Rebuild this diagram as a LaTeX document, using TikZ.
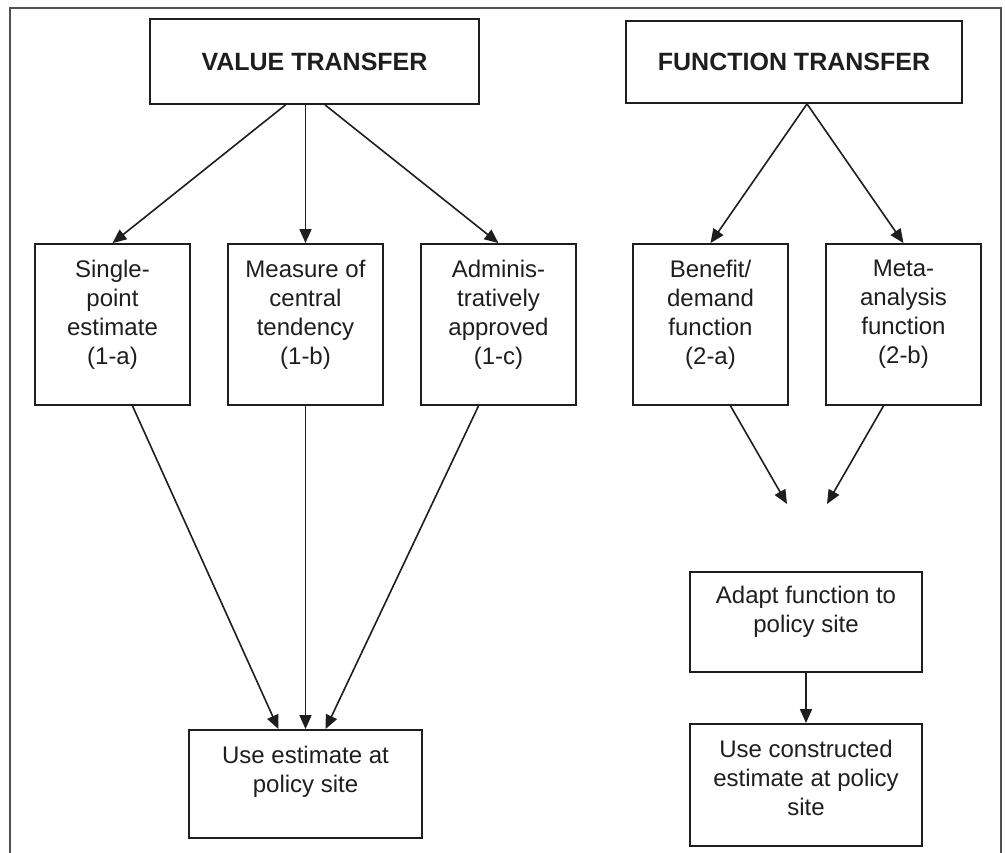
\documentclass[tikz,border=0pt]{standalone}
\usepackage{fontspec}
\setmainfont{Liberation Sans}
\usetikzlibrary{arrows.meta}
\definecolor{ink}{HTML}{1E1E1E}
\definecolor{framegray}{HTML}{505050}
\begin{document}
\begin{tikzpicture}[x=1pt,y=-1pt,
  box/.style={draw=ink, line width=1.8pt, inner sep=0pt, rectangle},
  txt/.style={align=center, inner sep=0pt, text=ink, font=\fontsize{24}{29}\selectfont, anchor=north},
  ttl/.style={text=ink, font=\bfseries\fontsize{25}{30}\selectfont},
  arr/.style={draw=ink, line width=1.6pt, -{Triangle[length=14pt,width=12pt]}}]
\useasboundingbox (0,0) rectangle (1005,853);
% outer frame
\draw[framegray, line width=1.6pt] (10,853) -- (10,8) -- (1001,8) -- (1001,853);
% title boxes
\node[box, ttl, minimum width=329pt, minimum height=85pt] (vt) at (314.5,61.5) {VALUE TRANSFER};
\node[box, ttl, minimum width=336pt, minimum height=82pt] (ft) at (794,62) {FUNCTION TRANSFER};
% second row
\node[box, minimum width=155pt, minimum height=161pt] (b1a) at (112.5,324.5) {};
\node[box, minimum width=155pt, minimum height=161pt] (b1b) at (305.5,324.5) {};
\node[box, minimum width=155pt, minimum height=161pt] (b1c) at (498.5,324.5) {};
\node[box, minimum width=155pt, minimum height=161pt] (b2a) at (710.5,324.5) {};
\node[box, minimum width=155pt, minimum height=161pt] (b2b) at (903.5,324.5) {};
\node[txt] (t1a) at (112.5,259.5) {Single-\\point\\estimate\\(1-a)};
\node[txt] (t1b) at (305.5,259.5) {Measure of\\central\\tendency\\(1-b)};
\node[txt] (t1c) at (498.5,259.5) {Adminis-\\tratively\\approved\\(1-c)};
\node[txt] (t2a) at (710.5,259.5) {Benefit/\\demand\\function\\(2-a)};
\node[txt] (t2b) at (903.5,259.5) {Meta-\\analysis\\function\\(2-b)};
% bottom boxes
\node[box, minimum width=233pt, minimum height=108pt] (use1) at (305.5,784) {};
\node[txt] (tuse1) at (305.5,745.5) {Use estimate at\\policy site};
\node[box, minimum width=232pt, minimum height=100pt] (adapt) at (806,622) {};
\node[txt] (tadapt) at (806,586) {Adapt function to\\policy site};
\node[box, minimum width=232pt, minimum height=122pt] (use2) at (806,785) {};
\node[txt] (tuse2) at (806,740) {Use constructed\\estimate at policy\\site};
% connectors value transfer
\draw[arr] ([xshift=-29pt]vt.south) -- (b1a.north);
\draw[arr] (b1b.north |- vt.south) -- (b1b.north);
\draw[arr] ([xshift=10.5pt]vt.south) -- (b1c.north);
\draw[arr] ([xshift=20pt]b1a.south) -- ([xshift=-27pt]use1.north);
\draw[arr] (b1b.south) -- (use1.north);
\draw[arr] ([xshift=-20pt]b1c.south) -- ([xshift=20pt]use1.north);
% connectors function transfer
\coordinate (ftap) at ([xshift=13pt]ft.south);
\draw[arr] (ftap) -- (b2a.north);
\draw[arr] (ftap) -- (b2b.north);
\coordinate (m1) at (787,504);
\coordinate (m2) at (827,504);
\draw[arr] ([xshift=20pt]b2a.south) -- (m1);
\draw[arr] ([xshift=-20pt]b2b.south) -- (m2);
\draw[arr] (adapt.south) -- (use2.north);
\end{tikzpicture}
\end{document}
